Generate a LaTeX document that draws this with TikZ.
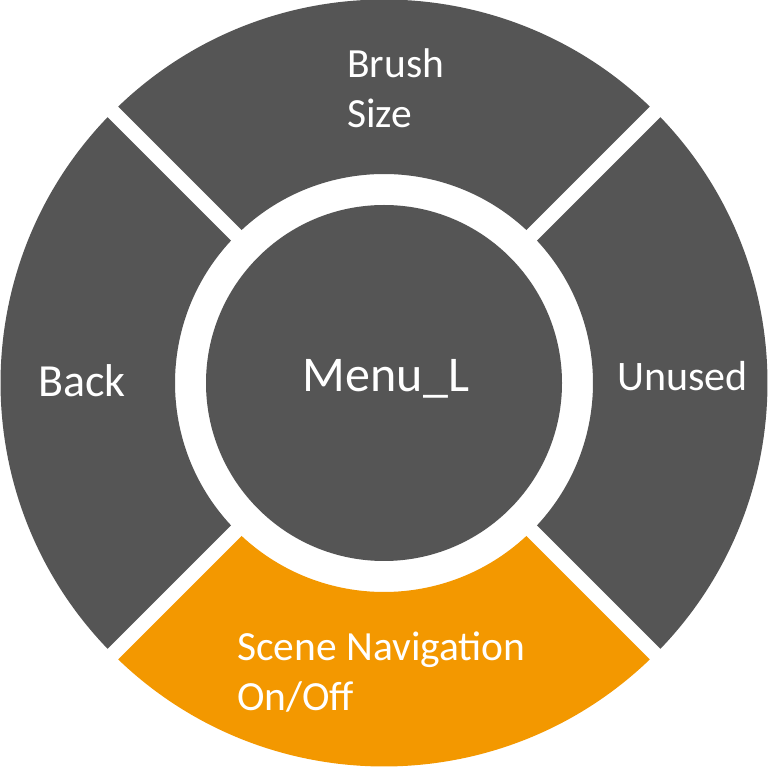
\documentclass[tikz,border=0pt]{standalone}
\usepackage{fontspec}
\setmainfont{Carlito}
\definecolor{sectorgray}{HTML}{555555}
\definecolor{menuorange}{HTML}{F39800}
\tikzset{
  sectorfill/.style={fill=#1},
  hubstyle/.style={circle, fill=sectorgray, minimum size=356pt, inner sep=0pt},
  biglabel/.style={text=white, inner sep=0pt, font=\fontsize{50}{60}\selectfont},
  smalllabel/.style={text=white, inner sep=0pt, align=left, font=\fontsize{41.5}{50}\selectfont},
}
\begin{document}
\begin{tikzpicture}[x=1pt,y=1pt]
\useasboundingbox (0,0) rectangle (768,766);
\fill[white] (0,0) rectangle (768,766);
\begin{scope}[shift={(384,383)}]
\def\rO{383.5}
\def\rI{209}
\pgfmathsetmacro\dO{asin(7.5/383.5)}
\pgfmathsetmacro\dI{asin(7.5/209)}
\foreach \a/\c in {90/sectorgray, 0/sectorgray, 180/sectorgray, 270/menuorange}{
  \fill[sectorfill=\c] (\a-45+\dO:\rO) arc[start angle=\a-45+\dO, end angle=\a+45-\dO, radius=\rO]
    -- (\a+45-\dI:\rI) arc[start angle=\a+45-\dI, end angle=\a-45+\dI, radius=\rI] -- cycle;
}
\node[hubstyle] (hub) at (0,0) {};
\end{scope}
\node[biglabel, anchor=base] (menul) at (386,374.3) {Menu\_L};
\node[biglabel, font=\fontsize{46}{56}\selectfont, anchor=base west] (back) at (38,369.3) {Back};
\node[smalllabel, font=\fontsize{42}{50}\selectfont, anchor=base west] (unused) at (617,375.3) {Unused};
\node[smalllabel, anchor=base west] (brush) at (347,638.3) {Brush\\Size};
\node[smalllabel, anchor=base west] (scene) at (237,55.3) {Scene Navigation\\On/Off};
\end{tikzpicture}
\end{document}
